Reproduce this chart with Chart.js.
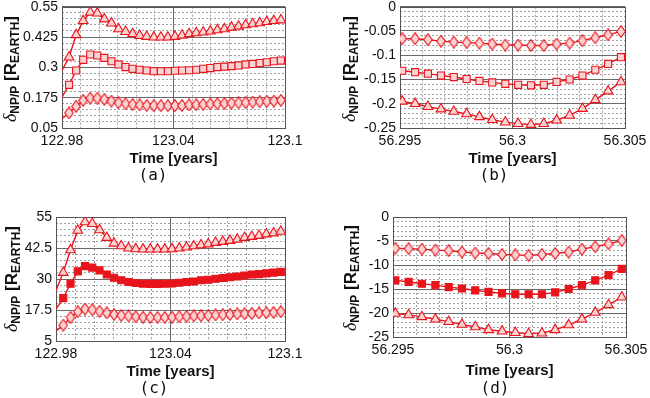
<!DOCTYPE html>
<html>
<head>
<meta charset="utf-8">
<script src="https://cdn.jsdelivr.net/npm/chart.js@4.4.1/dist/chart.umd.min.js"></script>
<style>
  html, body { margin: 0; padding: 0; background: #fff; }
  #wrap { position: relative; width: 650px; height: 398px; overflow: hidden; }
  canvas { position: absolute; }
</style>
</head>
<body>
<div id="wrap">
  <canvas id="pa" width="325" height="198" style="left:0;top:0"></canvas>
  <canvas id="pb" width="325" height="198" style="left:325px;top:0"></canvas>
  <canvas id="pc" width="325" height="200" style="left:0;top:198px"></canvas>
  <canvas id="pd" width="325" height="200" style="left:325px;top:198px"></canvas>
</div>
<script>
// time samples (first one of A sits on the left border, no marker)
const timesA = [122.98, 122.9838, 122.9876, 122.9914, 122.9952, 122.999, 123.0028, 123.0066,
  123.0104, 123.0142, 123.018, 123.0218, 123.0256, 123.0294, 123.0332, 123.037, 123.0408,
  123.0446, 123.0484, 123.0522, 123.056, 123.0598, 123.0636, 123.0674, 123.0712, 123.075,
  123.0788, 123.0826, 123.0864, 123.0902, 123.094, 123.0978];
const timesB = [56.2951, 56.29567, 56.29624, 56.29682, 56.29739, 56.29796, 56.29853, 56.2991,
  56.29968, 56.30025, 56.30082, 56.30139, 56.30196, 56.30254, 56.30311, 56.30368, 56.30425, 56.30482];

// panel (a)
const triA = [0.287, 0.342, 0.434, 0.492, 0.527, 0.523, 0.499, 0.482, 0.458, 0.447, 0.438, 0.431,
  0.427, 0.424, 0.424, 0.424, 0.427, 0.432, 0.438, 0.442, 0.445, 0.449, 0.454, 0.458, 0.465,
  0.469, 0.475, 0.479, 0.483, 0.488, 0.492, 0.495];
const sqA = [0.177, 0.228, 0.287, 0.331, 0.353, 0.349, 0.339, 0.325, 0.312, 0.301, 0.294, 0.290,
  0.287, 0.284, 0.284, 0.284, 0.286, 0.287, 0.288, 0.290, 0.294, 0.297, 0.301, 0.303, 0.305,
  0.308, 0.312, 0.314, 0.318, 0.321, 0.325, 0.328];
const dmA = [0.088, 0.112, 0.139, 0.164, 0.173, 0.173, 0.168, 0.161, 0.154, 0.150, 0.147, 0.145,
  0.143, 0.142, 0.142, 0.142, 0.142, 0.143, 0.145, 0.146, 0.147, 0.149, 0.150, 0.151, 0.153,
  0.154, 0.155, 0.157, 0.158, 0.160, 0.161, 0.164];

// panel (b)
const dmB = [-0.066, -0.066, -0.068, -0.071, -0.073, -0.074, -0.075, -0.077, -0.079, -0.079,
  -0.080, -0.080, -0.077, -0.075, -0.070, -0.064, -0.058, -0.051];
const sqB = [-0.132, -0.135, -0.138, -0.142, -0.145, -0.149, -0.153, -0.156, -0.159, -0.161,
  -0.162, -0.161, -0.155, -0.150, -0.142, -0.130, -0.118, -0.104];
const triB = [-0.195, -0.200, -0.206, -0.211, -0.216, -0.221, -0.227, -0.233, -0.238, -0.241,
  -0.243, -0.241, -0.234, -0.224, -0.210, -0.192, -0.174, -0.155];

// panel (c)
const triC = [25.4, 32.6, 41.7, 49.6, 53.0, 52.3, 49.8, 46.7, 44.4, 43.3, 42.4, 42.1, 42.0, 42.0,
  42.0, 42.0, 42.1, 42.4, 42.8, 43.3, 43.7, 44.1, 44.7, 45.1, 45.5, 46.0, 46.7, 47.1, 47.5, 48.1,
  48.5, 49.2];
const sqC = [17.9, 22.3, 28.1, 33.1, 35.2, 34.6, 33.5, 31.8, 30.5, 29.5, 28.8, 28.4, 28.1, 28.0,
  28.0, 28.1, 28.2, 28.5, 28.8, 29.0, 29.5, 29.7, 30.1, 30.4, 30.7, 31.0, 31.4, 31.8, 32.0, 32.3,
  32.6, 32.9];
const dmC = [9.1, 11.4, 14.5, 16.8, 17.9, 17.6, 17.0, 16.3, 15.7, 15.3, 15.1, 14.8, 14.6, 14.5,
  14.5, 14.5, 14.6, 14.8, 14.9, 15.1, 15.2, 15.3, 15.5, 15.6, 15.7, 15.9, 16.0, 16.1, 16.3, 16.4,
  16.5, 16.8];

// panel (d)
const dmD = [-6.5, -6.6, -6.7, -6.9, -7.0, -7.3, -7.5, -7.6, -7.8, -7.9, -8.0, -7.8, -7.6, -7.3,
  -6.7, -6.2, -5.6, -4.9];
const sqD = [-13.2, -13.5, -13.9, -14.2, -14.6, -14.9, -15.3, -15.6, -15.9, -16.1, -16.1, -16.1,
  -15.7, -15.0, -14.2, -13.2, -12.1, -10.8];
const triD = [-20.1, -20.4, -20.8, -21.3, -21.8, -22.4, -22.9, -23.5, -23.8, -24.1, -24.3, -24.2,
  -23.5, -22.5, -21.3, -19.9, -18.3, -16.7];

// tick labels
const xTicksA = [122.98, 123.04, 123.1];
const xTicksB = [56.295, 56.3, 56.305];
const yTicksA = [0.05, 0.175, 0.3, 0.425, 0.55];
const yTicksB = [-0.25, -0.2, -0.15, -0.1, -0.05, 0];
const yTicksC = [5, 17.5, 30, 42.5, 55];
const yTicksD = [-25, -20, -15, -10, -5, 0];

const RED = '#e8141c';
const PINK = '#fbd2d2';
const FONT = '"Liberation Sans", Arial, sans-serif';

function diamond(fill) {
  const c = document.createElement('canvas');
  c.width = 10; c.height = 13;
  const g = c.getContext('2d');
  g.beginPath();
  g.moveTo(5, 0.7); g.lineTo(9.3, 6.5); g.lineTo(5, 12.3); g.lineTo(0.7, 6.5);
  g.closePath();
  g.fillStyle = fill; g.fill();
  g.strokeStyle = RED; g.lineWidth = 1.1; g.stroke();
  return c;
}

function series(times, vals, style, fill, r, skipFirst) {
  return {
    data: times.map((t, i) => ({ x: t, y: vals[i] })),
    borderColor: RED,
    borderWidth: 1.4,
    backgroundColor: fill,
    pointStyle: style,
    pointRadius: c => (skipFirst && c.dataIndex === 0) ? 0 : r,
    pointHoverRadius: 0,
    pointBorderColor: RED,
    pointBackgroundColor: fill,
    pointBorderWidth: 1.1,
    tension: 0
  };
}

function tickList(min, max, step) {
  const out = [];
  const n = Math.round((max - min) / step);
  for (let i = 0; i <= n; i++) out.push({ value: +(min + i * step).toFixed(6) });
  return out;
}

function isMajor(v, majors, step) {
  return majors.some(m => Math.abs(m - v) < step / 100);
}

function axis(min, max, step, majors, isX, area, W, H) {
  return {
    type: 'linear',
    min: min, max: max,
    afterBuildTicks: s => { s.ticks = tickList(min, max, step); },
    afterFit: s => {
      if (isX) s.height = H - area.bottom; else s.width = area.left;
      s.paddingLeft = 0; s.paddingRight = 0; s.paddingTop = 0; s.paddingBottom = 0;
    },
    ticks: {
      autoSkip: false, maxRotation: 0, minRotation: 0,
      padding: isX ? 5 : 4,
      color: '#111',
      font: { family: FONT, size: 14 },
      callback: v => {
        const m = majors.find(t => Math.abs(t - v) < step / 100);
        return m === undefined ? '' : String(m);
      }
    },
    grid: {
      drawTicks: false,
      lineWidth: 1,
      color: c => isMajor(c.tick.value, majors, step) ? '#6a6a6a' : '#a0a0a0'
    },
    border: {
      display: false,
      dash: c => isMajor(c.tick.value, majors, step) ? [] : [2, 2]
    }
  };
}

function drawYTitle(ctx, base, cy) {
  const parts = [
    { t: 'δ', f: 'italic 18px "Liberation Serif", serif', dy: 0 },
    { t: 'NP/P', f: 'bold 12px ' + FONT, dy: 3 },
    { t: ' [R', f: 'bold 17px ' + FONT, dy: 0 },
    { t: 'EARTH', f: 'bold 12px ' + FONT, dy: 3 },
    { t: ']', f: 'bold 17px ' + FONT, dy: 0 }
  ];
  let total = 0;
  parts.forEach(p => { ctx.font = p.f; p.w = ctx.measureText(p.t).width; total += p.w; });
  ctx.save();
  ctx.translate(base, cy);
  ctx.rotate(-Math.PI / 2);
  ctx.fillStyle = '#111';
  ctx.textBaseline = 'alphabetic';
  ctx.textAlign = 'left';
  let x = -total / 2;
  parts.forEach(p => { ctx.font = p.f; ctx.fillText(p.t, x, p.dy); x += p.w; });
  ctx.restore();
}

const decor = {
  id: 'decor',
  beforeDatasetsDraw(chart) {
    const { ctx, chartArea: a } = chart;
    ctx.save();
    ctx.strokeStyle = '#555';
    ctx.lineWidth = 1;
    ctx.strokeRect(Math.round(a.left) + 0.5, Math.round(a.top) + 0.5,
      Math.round(a.right - a.left), Math.round(a.bottom - a.top));
    ctx.restore();
  },
  afterDraw(chart, args, o) {
    const { ctx, chartArea: a } = chart;
    ctx.save();
    ctx.fillStyle = '#111';
    ctx.textAlign = 'center';
    ctx.textBaseline = 'middle';
    ctx.font = 'bold 15px ' + FONT;
    ctx.fillText('Time [years]', (a.left + a.right) / 2, o.titleY);
    ctx.font = '16px "DejaVu Sans Mono", monospace';
    ctx.fillText(o.letter, o.letterX, o.letterY);
    ctx.restore();
    drawYTitle(ctx, o.yBase, o.yCy);
  }
};

function panel(id, area, xr, yr, datasets, deco) {
  const cv = document.getElementById(id);
  const W = cv.width, H = cv.height;
  new Chart(cv, {
    type: 'line',
    data: { datasets: datasets },
    options: {
      responsive: false,
      animation: false,
      devicePixelRatio: 1,
      events: [],
      layout: { padding: { top: area.top, right: W - area.right, left: 0, bottom: 0 } },
      plugins: { legend: { display: false }, tooltip: { enabled: false }, decor: deco },
      scales: {
        x: axis(xr[0], xr[1], xr[2], xr[3], true, area, W, H),
        y: axis(yr[0], yr[1], yr[2], yr[3], false, area, W, H)
      }
    },
    plugins: [decor]
  });
}

const dmOpen = diamond(PINK);

panel('pa', { left: 62, right: 285, top: 6, bottom: 128 },
  [122.98, 123.1, 0.01, xTicksA], [0.05, 0.55, 0.025, yTicksA],
  [series(timesA, triA, 'triangle', PINK, 5.6, true),
   series(timesA, sqA, 'rect', PINK, 5, true),
   series(timesA, dmA, dmOpen, PINK, 4, true)],
  { titleY: 159, letter: '(a)', letterX: 153, letterY: 176, yBase: 16, yCy: 69 });

panel('pb', { left: 75, right: 300, top: 6, bottom: 128 },
  [56.295, 56.305, 0.001, xTicksB], [-0.25, 0, 0.01, yTicksB],
  [series(timesB, dmB, dmOpen, PINK, 4, false),
   series(timesB, sqB, 'rect', PINK, 5, false),
   series(timesB, triB, 'triangle', PINK, 5.6, false)],
  { titleY: 159, letter: '(b)', letterX: 169, letterY: 176, yBase: 30, yCy: 69 });

panel('pc', { left: 56, right: 285, top: 19, bottom: 143 },
  [122.98, 123.1, 0.01, xTicksA], [5, 55, 2.5, yTicksC],
  [series(timesA, triC, 'triangle', PINK, 5.6, true),
   series(timesA, sqC, 'rect', RED, 5, true),
   series(timesA, dmC, dmOpen, PINK, 4, true)],
  { titleY: 174, letter: '(c)', letterX: 154, letterY: 191, yBase: 17, yCy: 81 });

panel('pd', { left: 68, right: 301, top: 19, bottom: 139 },
  [56.295, 56.305, 0.001, xTicksB], [-25, 0, 1, yTicksD],
  [series(timesB, dmD, dmOpen, PINK, 4, false),
   series(timesB, sqD, 'rect', RED, 5, false),
   series(timesB, triD, 'triangle', PINK, 5.6, false)],
  { titleY: 173, letter: '(d)', letterX: 170, letterY: 191, yBase: 31, yCy: 80 });
</script>
</body>
</html>
